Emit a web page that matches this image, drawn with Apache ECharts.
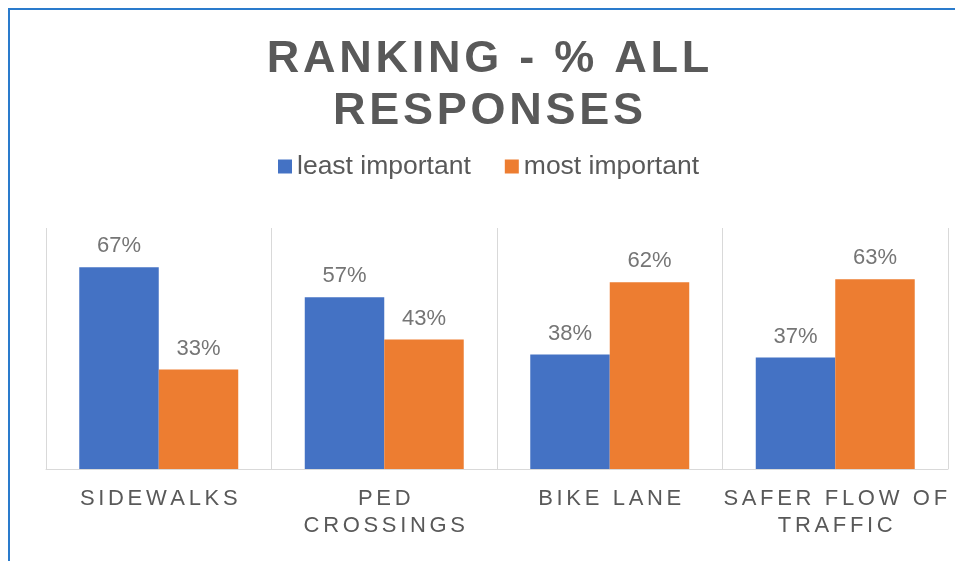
<!doctype html>
<html>
<head>
<meta charset="utf-8">
<title>Ranking</title>
<script src="https://cdn.jsdelivr.net/npm/echarts@6/dist/echarts.min.js"></script>
<style>
  html, body { margin: 0; padding: 0; background: #fff; }
  #main { width: 955px; height: 561px; }
</style>
</head>
<body>
<div id="main"></div>
<script>
var categories = ['SIDEWALKS', 'PED\nCROSSINGS', 'BIKE LANE', 'SAFER FLOW OF\nTRAFFIC'];
var leastImportant = [0.67, 0.57, 0.38, 0.37];
var mostImportant = [0.33, 0.43, 0.62, 0.63];
var seriesNames = ['least important', 'most important'];

// canvas text has no letter spacing, so pad with thin unicode spaces
function spaced(s, gap) {
    return s.split('\n').map(function (line) {
        return line.split('').join(gap);
    }).join('\n');
}

var chart = echarts.init(document.getElementById('main'));
chart.setOption({
    backgroundColor: '#fff',
    animation: false,
    title: {
        text: spaced('RANKING - % ALL\nRESPONSES', '\u200A'),
        left: 483,
        top: 29,
        textAlign: 'center',
        textStyle: {
            fontFamily: 'Liberation Sans',
            fontSize: 45,
            fontWeight: 'bold',
            color: '#595959',
            lineHeight: 52
        }
    },
    legend: {
        top: 148,
        left: 273,
        itemWidth: 14,
        itemHeight: 14,
        itemGap: 34,
        icon: 'rect',
        textStyle: {
            fontFamily: 'Liberation Sans',
            fontSize: 26.5,
            color: '#595959'
        },
        data: seriesNames
    },
    grid: {
        left: 46,
        right: 7,
        top: 228,
        bottom: 92
    },
    xAxis: {
        type: 'category',
        data: categories,
        axisLine: { lineStyle: { color: '#d9d9d9', width: 1 } },
        axisTick: { show: false },
        splitLine: { show: true, interval: 0, lineStyle: { color: '#d9d9d9', width: 1 } },
        axisLabel: {
            interval: 0,
            fontFamily: 'Liberation Sans',
            fontSize: 22,
            color: '#595959',
            lineHeight: 27,
            margin: 16,
            formatter: function (v) { return spaced(v, '\u2006'); }
        }
    },
    yAxis: {
        type: 'value',
        min: 0,
        max: 0.8,
        show: false,
        splitLine: { show: false }
    },
    series: [
        {
            name: seriesNames[0],
            type: 'bar',
            data: leastImportant,
            barGap: '0%',
            barCategoryGap: '29.5%',
            itemStyle: { color: '#4472c4' },
            label: {
                show: true,
                position: 'top',
                distance: 10,
                fontFamily: 'Liberation Sans',
                fontSize: 22,
                color: '#757575',
                formatter: function (p) { return Math.round(p.value * 100) + '%'; }
            }
        },
        {
            name: seriesNames[1],
            type: 'bar',
            data: mostImportant,
            barGap: '0%',
            barCategoryGap: '29.5%',
            itemStyle: { color: '#ed7d31' },
            label: {
                show: true,
                position: 'top',
                distance: 10,
                fontFamily: 'Liberation Sans',
                fontSize: 22,
                color: '#757575',
                formatter: function (p) { return Math.round(p.value * 100) + '%'; }
            }
        }
    ],
    graphic: [{
        type: 'rect',
        shape: { x: 9, y: 9, width: 1200, height: 1200 },
        style: { fill: null, stroke: '#2a7bcc', lineWidth: 2 },
        silent: true
    }]
});
</script>
</body>
</html>
